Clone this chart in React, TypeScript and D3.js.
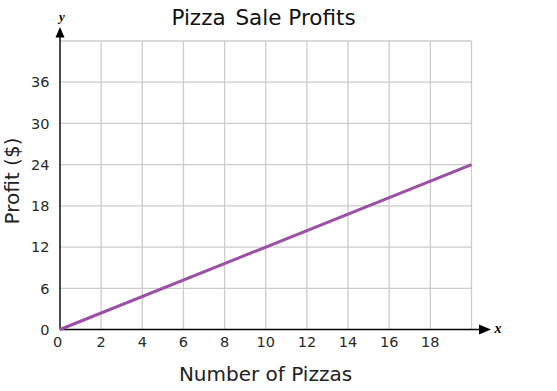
import React from "react";
import * as d3 from "d3";

const xTicks = [0, 2, 4, 6, 8, 10, 12, 14, 16, 18];
const yTicks = [0, 6, 12, 18, 24, 30, 36];
const xGrid = [2, 4, 6, 8, 10, 12, 14, 16, 18, 20];
const yGrid = [6, 12, 18, 24, 30, 36, 42];
const pizzas = [0, 20];
const profit = [0, 24];

const W = 557;
const H = 391;
const x0 = 60, x1 = 471.5, y0 = 329.5, y1 = 41;
const FONT = "DejaVu Sans, Verdana, sans-serif";

export default function App() {
  const x = d3.scaleLinear().domain([0, 20]).range([x0, x1]);
  const y = d3.scaleLinear().domain([0, 42]).range([y0, y1]);
  const line = d3.line<number>().x((_, i) => x(pizzas[i])).y((d) => y(d));
  return (
    <svg width={W} height={H} style={{ position: "absolute", left: 0, top: 0, background: "#fff" }}>
      <rect width={W} height={H} fill="#fff" />
      {xGrid.map((v) => (
        <line key={"xg" + v} x1={x(v)} x2={x(v)} y1={y(0)} y2={y(42)} stroke="#cccccc" strokeWidth={1.3} />
      ))}
      {yGrid.map((v) => (
        <line key={"yg" + v} x1={x(0)} x2={x(20)} y1={y(v)} y2={y(v)} stroke="#cccccc" strokeWidth={1.3} />
      ))}
      {/* axes */}
      <line x1={x(0)} x2={x(0)} y1={y(0)} y2={35} stroke="#000" strokeWidth={1.4} />
      <line x1={x(0)} x2={483} y1={y(0)} y2={y(0)} stroke="#000" strokeWidth={1.4} />
      <path d={`M${x(0)},27 L${x(0) - 4.5},37.5 L${x(0) + 4.5},37.5 Z`} fill="#000" />
      <path d={`M491,${y(0)} L479,${y(0) - 5} L479,${y(0) + 5} Z`} fill="#000" />
      <text x={x(0) + 2} y={21} fontFamily="Liberation Serif, serif" fontStyle="italic" fontWeight="bold" fontSize={13} textAnchor="middle" fill="#000">y</text>
      <text x={498} y={333} fontFamily="Liberation Serif, serif" fontStyle="italic" fontWeight="bold" fontSize={14} textAnchor="middle" fill="#000">x</text>
      {/* data line */}
      <path d={line(profit) || ""} fill="none" stroke="#9b4fa6" strokeWidth={3} />
      {/* tick labels */}
      {yTicks.map((v) => (
        <text key={"yt" + v} x={49.5} y={y(v)} dy="0.36em" textAnchor="end" fontFamily={FONT} fontSize={14.5} fill="#2a2a2a">{v}</text>
      ))}
      {xTicks.map((v) => (
        <text key={"xt" + v} x={x(v) - (v === 0 ? 2.5 : 0)} y={342} dy="0.36em" textAnchor="middle" fontFamily={FONT} fontSize={14.5} fill="#2a2a2a">{v}</text>
      ))}
      <text x={263.5} y={25} textAnchor="middle" fontFamily={FONT} fontSize={21.5} fill="#111">
        <tspan>Pizza</tspan>
        <tspan dx={3}> Sale Profits</tspan>
      </text>
      <text x={265.5} y={380.5} textAnchor="middle" fontFamily={FONT} fontSize={20} fill="#222">Number of Pizzas</text>
      <text transform={`translate(18.5,${181}) rotate(-90)`} textAnchor="middle" fontFamily={FONT} fontSize={20} fill="#222">Profit ($)</text>
    </svg>
  );
}
